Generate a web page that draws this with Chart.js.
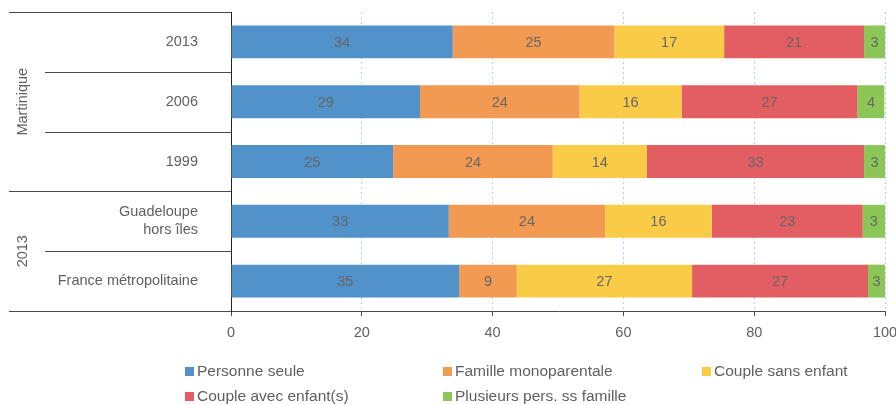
<!DOCTYPE html>
<html>
<head>
<meta charset="utf-8">
<script src="https://cdn.jsdelivr.net/npm/chart.js@4/dist/chart.umd.min.js"></script>
<style>
  body { margin: 0; background: #fff; }
  #wrap { width: 896px; height: 405px; }
</style>
</head>
<body>
<div id="wrap"><canvas id="chart" width="896" height="405"></canvas></div>
<script>
// Categories (rows, top to bottom)
const categories = ['2013', '2006', '1999', ['Guadeloupe', 'hors îles'], 'France métropolitaine'];
// Outer grouping of the rows
const groupLabels = ['Martinique', '2013'];
const groupSizes = [3, 2];

// Series (% of households)
const seriesNames = ['Personne seule', 'Famille monoparentale', 'Couple sans enfant', 'Couple avec enfant(s)', 'Plusieurs pers. ss famille'];
const personneSeule = [33.9, 28.9, 24.8, 33.3, 34.9];
const familleMono = [24.7, 24.4, 24.4, 23.9, 8.8];
const coupleSansEnfant = [16.8, 15.6, 14.4, 16.3, 26.8];
const coupleAvecEnfants = [21.4, 26.9, 33.2, 23.1, 26.9];
const plusieursPers = [3.2, 4.1, 3.2, 3.4, 2.6];
const seriesColors = ['#5192cb', '#f29a52', '#f9cb46', '#e35e63', '#8cc656'];

const xTicks = [0, 20, 40, 60, 80, 100];

const FONT = 'Liberation Sans, Arial, sans-serif';
const TEXT = '#5f5f5f';
const LINE = '#4a4a4a';

const seriesValues = [personneSeule, familleMono, coupleSansEnfant, coupleAvecEnfants, plusieursPers];

// Row separators + rotated group labels on the left
const groupAxisPlugin = {
  id: 'groupAxis',
  afterDraw(chart) {
    const ctx = chart.ctx;
    const area = chart.chartArea;
    const band = (area.bottom - area.top) / categories.length;
    const starts = [0];
    groupSizes.forEach((s, i) => starts.push(starts[i] + s));
    ctx.save();
    ctx.strokeStyle = LINE;
    ctx.lineWidth = 1;
    for (let k = 0; k <= categories.length; k++) {
      const y = Math.round(area.top + k * band) + 0.5;
      const x0 = starts.includes(k) ? 9 : 45;
      ctx.beginPath();
      ctx.moveTo(x0, y);
      ctx.lineTo(area.left, y);
      ctx.stroke();
    }
    ctx.fillStyle = TEXT;
    ctx.font = '14.5px ' + FONT;
    ctx.textAlign = 'center';
    ctx.textBaseline = 'middle';
    groupLabels.forEach((g, i) => {
      const yc = area.top + (starts[i] + groupSizes[i] / 2) * band;
      ctx.save();
      ctx.translate(23, yc);
      ctx.rotate(-Math.PI / 2);
      ctx.fillText(g, 0, 0);
      ctx.restore();
    });
    ctx.restore();
  }
};

// Rounded values in the middle of each segment
const valueLabelPlugin = {
  id: 'valueLabels',
  afterDatasetsDraw(chart) {
    const ctx = chart.ctx;
    ctx.save();
    ctx.fillStyle = '#666';
    ctx.font = '14.5px ' + FONT;
    ctx.textAlign = 'center';
    ctx.textBaseline = 'middle';
    chart.data.datasets.forEach((ds, i) => {
      chart.getDatasetMeta(i).data.forEach((bar, j) => {
        const p = bar.getCenterPoint();
        ctx.fillText(String(Math.round(ds.data[j])), p.x, p.y + 1);
      });
    });
    ctx.restore();
  }
};

// Legend in three columns below the chart
const legendPlugin = {
  id: 'colLegend',
  afterDraw(chart) {
    const ctx = chart.ctx;
    const cols = [185, 443, 702];
    const rows = [371, 396];
    ctx.save();
    ctx.font = '15.5px ' + FONT;
    ctx.textBaseline = 'middle';
    ctx.textAlign = 'left';
    chart.data.datasets.forEach((ds, i) => {
      const x = cols[i % 3];
      const y = rows[Math.floor(i / 3)];
      ctx.fillStyle = ds.backgroundColor;
      ctx.fillRect(x, y - 4, 9, 9);
      ctx.fillStyle = TEXT;
      ctx.fillText(ds.label, x + 12, y + 1);
    });
    ctx.restore();
  }
};

new Chart(document.getElementById('chart'), {
  type: 'bar',
  data: {
    labels: categories,
    datasets: seriesNames.map((name, i) => ({
      label: name,
      data: seriesValues[i],
      backgroundColor: seriesColors[i],
      borderWidth: 0,
      barPercentage: 0.55,
      categoryPercentage: 1
    }))
  },
  options: {
    indexAxis: 'y',
    responsive: false,
    animation: false,
    devicePixelRatio: 1,
    layout: { padding: { top: 12, right: 11, bottom: 54, left: 0 } },
    plugins: { legend: { display: false }, tooltip: { enabled: false } },
    scales: {
      x: {
        stacked: true,
        min: 0,
        max: 100,
        afterBuildTicks(scale) { scale.ticks = xTicks.map(v => ({ value: v })); },
        afterFit(scale) { scale.height = 40; scale.paddingLeft = 0; scale.paddingRight = 0; },
        grid: {
          color: '#a8d4f0',
          lineWidth: 1,
          drawTicks: true,
          tickLength: 5,
          tickColor: LINE,
          tickBorderDash: []
        },
        border: { display: true, color: LINE, width: 1, dash: [2, 3] },
        ticks: { color: TEXT, font: { family: FONT, size: 14.5 }, padding: 8, maxRotation: 0 }
      },
      y: {
        stacked: true,
        afterFit(scale) { scale.width = 231; scale.paddingTop = 0; scale.paddingBottom = 0; },
        grid: { display: false, drawTicks: false },
        border: { display: true, color: '#222', width: 1 },
        ticks: { color: TEXT, font: { family: FONT, size: 14.5, lineHeight: 1.25 }, padding: 33 }
      }
    }
  },
  plugins: [groupAxisPlugin, valueLabelPlugin, legendPlugin]
});
</script>
</body>
</html>
